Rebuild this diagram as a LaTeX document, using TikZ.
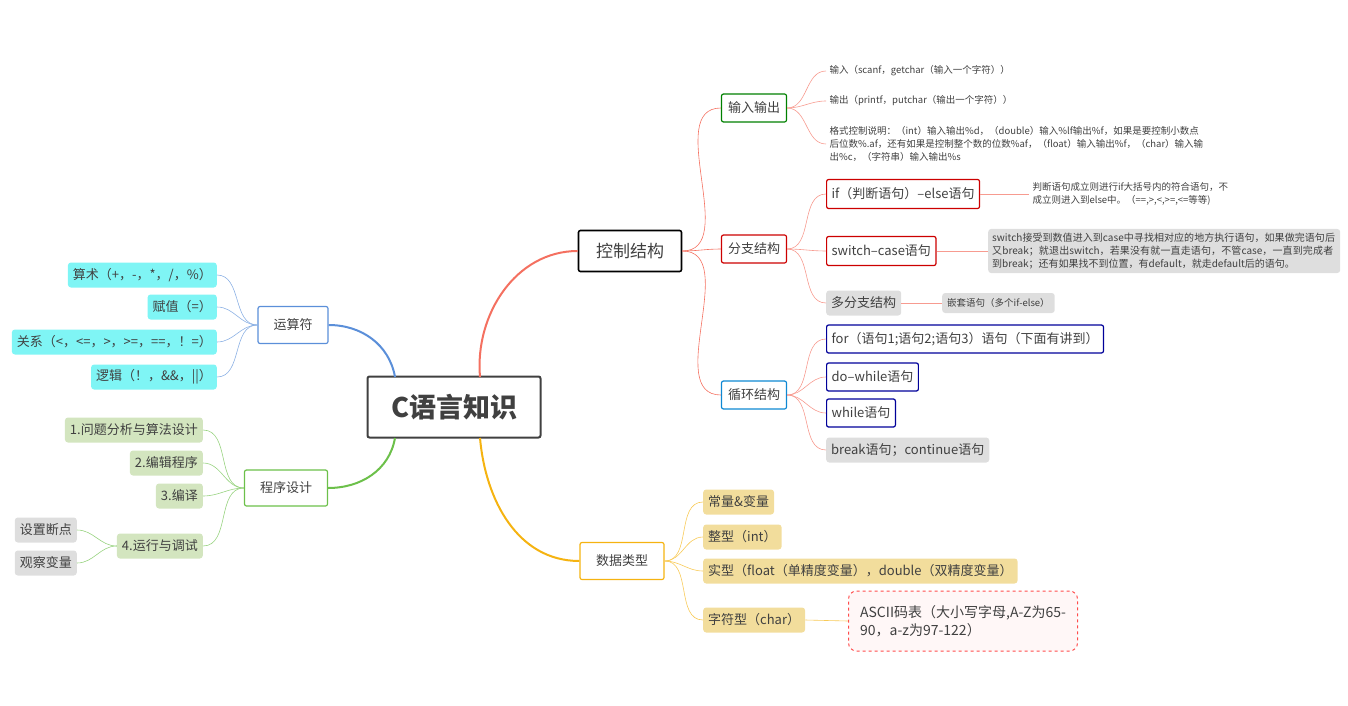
\documentclass[tikz,border=0pt]{standalone}
\usepackage{fontspec}
\setmainfont{Noto Sans CJK SC}
\XeTeXlinebreaklocale "zh"
\XeTeXlinebreakskip=0pt plus 1pt
\definecolor{ctrlred}{HTML}{F47060}
\definecolor{opblue}{HTML}{5B8FD9}
\definecolor{pgreen}{HTML}{6CC04A}
\definecolor{dorange}{HTML}{F5B311}
\definecolor{cyanfill}{HTML}{7FF5F5}
\definecolor{greenfill}{HTML}{D3E5BF}
\definecolor{yellowfill}{HTML}{F2DD9C}
\definecolor{grayfill}{HTML}{DEDEDE}
\definecolor{txt}{HTML}{404040}
\tikzset{
  box/.style={draw, rounded corners=2pt, line width=1.2pt, inner sep=5pt, text=txt, font=\fontsize{13}{15}\selectfont},
  leaf/.style={rounded corners=3pt, inner xsep=5pt, minimum height=25, text=txt, font=\fontsize{13}{15}\selectfont},
  note/.style={text=txt, font=\fontsize{9.5}{13}\selectfont, align=left, anchor=west},
  lnk/.style={line width=0.6pt}
}
\begin{document}
\begin{tikzpicture}[x=1pt,y=-1pt]
\useasboundingbox (0,0) rectangle (1348,706);
%%%%%%%% root and main branches
\node[box, draw=txt, line width=2pt, minimum width=173, minimum height=61, font=\fontsize{27}{30}\selectfont\bfseries] (root) at (454,407) {C语言知识};
\node[box, draw=black, line width=1.6pt, minimum width=103, minimum height=41, font=\fontsize{17}{20}\selectfont] (ctrl) at (630,251) {控制结构};
\node[box, draw=dorange, minimum width=84, minimum height=37] (data) at (622,561) {数据类型};
\node[box, draw=opblue, minimum width=70, minimum height=37] (op) at (293,325) {运算符};
\node[box, draw=pgreen, minimum width=83, minimum height=36] (prog) at (286,488) {程序设计};
\draw[ctrlred, line width=2pt] (480,377) to[out=95,in=180] (ctrl.west);
\draw[dorange, line width=2pt] (480,438) to[out=-85,in=180] (data.west);
\draw[opblue, line width=2pt] (395,377) to[out=100,in=0] (op.east);
\draw[pgreen, line width=2pt] (395,438) to[out=-100,in=0] (prog.east);
%%%%%%%% control structure
\node[box, draw=green!50!black, minimum width=65, minimum height=28] (io) at (754,108) {输入输出};
\node[box, draw=red!80!black, minimum width=65, minimum height=28] (br) at (754,249) {分支结构};
\node[box, draw=cyan!70!blue, minimum width=65, minimum height=28] (lp) at (754,395) {循环结构};
\foreach \c in {io,br,lp} {\draw[lnk, ctrlred] (ctrl.east) to[out=0,in=180] (\c.west);}
\node[note] (in) at (826,71) {输入（scanf，getchar（输入一个字符））};
\node[note] (out) at (826,101) {输出（printf，putchar（输出一个字符））};
\node[note] (fmt) at (826,144) {格式控制说明：（int）输入输出\%d，（double）输入\%lf输出\%f，如果是要控制小数点\\后位数\%.af，还有如果是控制整个数的位数\%af，（float）输入输出\%f，（char）输入输\\出\%c，（字符串）输入输出\%s};
\foreach \c in {in,out,fmt} {\draw[lnk, ctrlred!70] (io.east) to[out=0,in=180] (\c.west);}
\node[box, draw=red!80!black, anchor=west, minimum height=29] (if) at (826,194) {if（判断语句）--else语句};
\node[box, draw=red!80!black, anchor=west, minimum height=29] (sw) at (826,251) {switch--case语句};
\node[leaf, fill=grayfill, anchor=west] (multi) at (826,303) {多分支结构};
\foreach \c in {if,sw,multi} {\draw[lnk, ctrlred!70] (br.east) to[out=0,in=180] (\c.west);}
\node[note] (ifn) at (1029,194) {判断语句成立则进行if大括号内的符合语句，不\\成立则进入到else中。（==,>,<,>=,<=等等)};
\node[note, fill=grayfill, rounded corners=3pt, inner sep=4pt, text width=344, font=\fontsize{10}{13}\selectfont] (swn) at (988,251) {switch接受到数值进入到case中寻找相对应的地方执行语句，如果做完语句后又break；就退出switch，若果没有就一直走语句，不管case，一直到完成者到break；还有如果找不到位置，有default，就走default后的语句。};
\node[leaf, fill=grayfill, anchor=west, minimum height=20, font=\fontsize{9.5}{11}\selectfont] (nest) at (942,303) {嵌套语句（多个if-else）};
\draw[lnk, ctrlred!70] (if.east) -- (ifn.west);
\draw[lnk, ctrlred!70] (sw.east) -- (swn.west);
\draw[lnk, ctrlred!70] (multi.east) -- (nest.west);
\node[box, draw=blue!60!black, anchor=west, minimum height=28] (for) at (826,339) {for（语句1;语句2;语句3）语句（下面有讲到）};
\node[box, draw=blue!60!black, anchor=west, minimum height=28] (dow) at (826,377) {do--while语句};
\node[box, draw=blue!60!black, anchor=west, minimum height=28] (wh) at (826,413) {while语句};
\node[leaf, fill=grayfill, anchor=west] (brk) at (826,450) {break语句；continue语句};
\foreach \c in {for,dow,wh,brk} {\draw[lnk, ctrlred!70] (lp.east) to[out=0,in=180] (\c.west);}
%%%%%%%% data types
\node[leaf, fill=yellowfill, anchor=west] (cv) at (703,502) {常量\&变量};
\node[leaf, fill=yellowfill, anchor=west] (int) at (703,537) {整型（int）};
\node[leaf, fill=yellowfill, anchor=west] (flt) at (703,571) {实型（float（单精度变量），double（双精度变量）};
\node[leaf, fill=yellowfill, anchor=west] (chr) at (703,620) {字符型（char）};
\foreach \c in {cv,int,flt,chr} {\draw[lnk, dorange!70] (data.east) to[out=0,in=180] (\c.west);}
\node[draw=red!70, dashed, fill=red!3, rounded corners=8pt, line width=1pt, minimum width=229, minimum height=60, align=left, text=txt, font=\fontsize{14}{18}\selectfont] (ascii) at (963,621) {ASCII码表（大小写字母,A-Z为65-\\90，a-z为97-122）};
\draw[lnk, dorange!70] (chr.east) -- (ascii.west);
%%%%%%%% operators
\node[leaf, fill=cyanfill, anchor=east] (ar) at (217,275) {算术（+，-，*，/，\%）};
\node[leaf, fill=cyanfill, anchor=east] (as) at (217,307) {赋值（=）};
\node[leaf, fill=cyanfill, anchor=east] (rel) at (217,342) {关系（<，<=，>，>=，==，！=）};
\node[leaf, fill=cyanfill, anchor=east] (lg) at (217,377) {逻辑（！，\&\&，||）};
\foreach \c in {ar,as,rel,lg} {\draw[lnk, opblue!70] (op.west) to[out=180,in=0] (\c.east);}
%%%%%%%% program design
\node[leaf, fill=greenfill, anchor=east] (p1) at (203,430) {1.问题分析与算法设计};
\node[leaf, fill=greenfill, anchor=east] (p2) at (203,463) {2.编辑程序};
\node[leaf, fill=greenfill, anchor=east] (p3) at (203,496) {3.编译};
\node[leaf, fill=greenfill, anchor=east] (p4) at (203,546) {4.运行与调试};
\foreach \c in {p1,p2,p3,p4} {\draw[lnk, pgreen!70] (prog.west) to[out=180,in=0] (\c.east);}
\node[leaf, fill=grayfill, anchor=east] (bp) at (77,530) {设置断点};
\node[leaf, fill=grayfill, anchor=east] (wv) at (77,563) {观察变量};
\foreach \c in {bp,wv} {\draw[lnk, pgreen!70] (p4.west) to[out=180,in=0] (\c.east);}
\end{tikzpicture}
\end{document}
